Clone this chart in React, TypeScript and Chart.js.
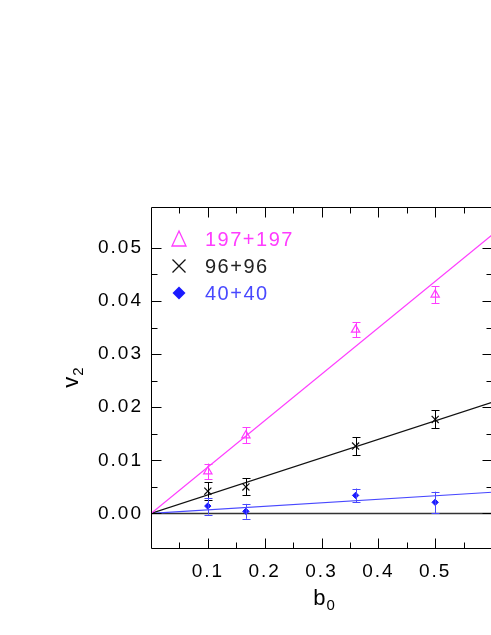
import React, { useEffect, useRef } from 'react';
import { Chart, registerables } from 'chart.js';

Chart.register(...registerables);

// ---- data ----
const b0 = [0.1, 0.167, 0.36, 0.5];
const v2_197 = [0.0079, 0.0147, 0.0346, 0.0412];
const err_197 = [0.0015, 0.0015, 0.0014, 0.0016];
const v2_96 = [0.0042, 0.005, 0.0127, 0.0177];
const err_96 = [0.0017, 0.0016, 0.0017, 0.0017];
const v2_40 = [0.0014, 0.0004, 0.0034, 0.0021];
const err_40 = [0.0016, 0.0014, 0.0013, 0.002];
const fitX = [0, 0.6];
const slope197 = 0.0874;
const slope96 = 0.0349;
const slope40 = 0.00666;
const legendLabels = ['197+197', '96+96', '40+40'];
const xTickLabels = ['0.1', '0.2', '0.3', '0.4', '0.5'];
const yTickLabels = ['0.00', '0.01', '0.02', '0.03', '0.04', '0.05'];

const MAGENTA = '#ff3cff';
const BLACK = '#000000';
const BLUE = '#1a1aff';
const BLUE_LIGHT = '#4848ff';
const FONT = '"Liberation Sans", Arial, Helvetica, sans-serif';

const pts = (xs: number[], ys: number[]) => xs.map((x, i) => ({ x, y: ys[i] }));

export default function App() {
  const ref = useRef<HTMLCanvasElement | null>(null);

  useEffect(() => {
    const canvas = ref.current;
    if (!canvas) return;

    const errSeries = [
      { ys: v2_197, es: err_197, color: MAGENTA },
      { ys: v2_96, es: err_96, color: BLACK },
      { ys: v2_40, es: err_40, color: BLUE_LIGHT },
    ];

    const isMult = (v: number, step: number) => Math.abs(v / step - Math.round(v / step)) < 1e-6;

    const spacing = {
      id: 'spacing',
      beforeDraw(chart: any) {
        (chart.ctx as any).letterSpacing = '2px';
      },
    };

    const overlay = {
      id: 'overlay',
      afterDatasetsDraw(chart: any) {
        const ctx = chart.ctx as CanvasRenderingContext2D;
        const xs = chart.scales.x;
        const ys = chart.scales.y;
        const { left, right, top, bottom } = chart.chartArea;
        ctx.save();
        // error bars
        errSeries.forEach((s) => {
          ctx.strokeStyle = s.color;
          ctx.lineWidth = 1;
          b0.forEach((x, i) => {
            const px = Math.round(xs.getPixelForValue(x)) + 0.5;
            const y1 = ys.getPixelForValue(s.ys[i] + s.es[i]);
            const y2 = ys.getPixelForValue(s.ys[i] - s.es[i]);
            ctx.beginPath();
            ctx.moveTo(px, y1);
            ctx.lineTo(px, y2);
            ctx.moveTo(px - 4, Math.round(y1) + 0.5);
            ctx.lineTo(px + 4, Math.round(y1) + 0.5);
            ctx.moveTo(px - 4, Math.round(y2) + 0.5);
            ctx.lineTo(px + 4, Math.round(y2) + 0.5);
            ctx.stroke();
          });
        });
        // frame
        ctx.strokeStyle = '#000';
        ctx.lineWidth = 1;
        const L = Math.round(left) + 0.5;
        const R = Math.round(right) + 0.5;
        const T = Math.round(top) + 0.5;
        const B = Math.round(bottom) + 0.5;
        ctx.beginPath();
        ctx.rect(L, T, R - L, B - T);
        ctx.stroke();
        // ticks
        ctx.beginPath();
        xs.ticks.forEach((t: any) => {
          const v = t.value;
          if (!isMult(v, 0.05) || v <= xs.min + 1e-9 || v >= xs.max - 1e-9) return;
          const len = isMult(v, 0.1) ? 10 : 6;
          const px = Math.round(xs.getPixelForValue(v)) + 0.5;
          ctx.moveTo(px, B);
          ctx.lineTo(px, B - len);
          ctx.moveTo(px, T);
          ctx.lineTo(px, T + len);
        });
        ys.ticks.forEach((t: any) => {
          const v = t.value;
          if (!isMult(v, 0.005) || v <= ys.min + 1e-9 || v >= ys.max - 1e-9) return;
          const len = isMult(v, 0.01) ? 10 : 6;
          const py = Math.round(ys.getPixelForValue(v)) + 0.5;
          ctx.moveTo(L, py);
          ctx.lineTo(L + len, py);
          ctx.moveTo(R, py);
          ctx.lineTo(R - len, py);
        });
        ctx.stroke();

        // legend
        const lx = left + 28;
        const tx = left + 54;
        const rowY = [top + 32, top + 59, top + 86];
        const colors = [MAGENTA, '#222222', BLUE_LIGHT];
        ctx.strokeStyle = MAGENTA;
        ctx.lineWidth = 1.3;
        ctx.beginPath();
        ctx.moveTo(lx, rowY[0] - 8);
        ctx.lineTo(lx + 7, rowY[0] + 7);
        ctx.lineTo(lx - 7, rowY[0] + 7);
        ctx.closePath();
        ctx.stroke();
        ctx.strokeStyle = '#111';
        ctx.beginPath();
        ctx.moveTo(lx - 6.5, rowY[1] - 6.5);
        ctx.lineTo(lx + 6.5, rowY[1] + 6.5);
        ctx.moveTo(lx + 6.5, rowY[1] - 6.5);
        ctx.lineTo(lx - 6.5, rowY[1] + 6.5);
        ctx.stroke();
        ctx.fillStyle = BLUE;
        ctx.beginPath();
        ctx.moveTo(lx, rowY[2] - 6.5);
        ctx.lineTo(lx + 6.5, rowY[2]);
        ctx.lineTo(lx, rowY[2] + 6.5);
        ctx.lineTo(lx - 6.5, rowY[2]);
        ctx.closePath();
        ctx.fill();
        ctx.font = `20px ${FONT}`;
        (ctx as any).letterSpacing = '1.5px';
        ctx.textBaseline = 'middle';
        ctx.textAlign = 'left';
        legendLabels.forEach((lab, i) => {
          ctx.fillStyle = colors[i];
          ctx.fillText(lab, tx, rowY[i] + 1);
        });

        // axis titles
        (ctx as any).letterSpacing = '0px';
        ctx.fillStyle = '#000';
        ctx.textBaseline = 'alphabetic';
        ctx.font = `22px ${FONT}`;
        const bw = ctx.measureText('b').width;
        ctx.font = `15px ${FONT}`;
        const sw = ctx.measureText('0').width;
        const cx = xs.getPixelForValue(0.3);
        const bx = cx - (bw + sw) / 2 + 2;
        ctx.font = `22px ${FONT}`;
        ctx.fillText('b', bx, 605);
        ctx.font = `15px ${FONT}`;
        ctx.fillText('0', bx + bw + 1, 610);
        ctx.save();
        ctx.translate(78, 378);
        ctx.rotate(-Math.PI / 2);
        ctx.font = `22px ${FONT}`;
        const vw = ctx.measureText('v').width;
        ctx.font = `15px ${FONT}`;
        const s2 = ctx.measureText('2').width;
        const vx = -(vw + s2) / 2;
        ctx.font = `22px ${FONT}`;
        ctx.fillText('v', vx, 0);
        ctx.font = `15px ${FONT}`;
        ctx.fillText('2', vx + vw + 1, 5);
        ctx.restore();

        ctx.restore();
      },
    };

    const chart = new Chart(canvas, {
      type: 'scatter',
      data: {
        datasets: [
          {
            type: 'line',
            label: 'zero',
            data: pts(fitX, [0, 0]),
            borderColor: '#333',
            borderWidth: 1.3,
            pointRadius: 0,
            order: 5,
          } as any,
          {
            type: 'line',
            label: 'fit 197',
            data: pts(fitX, fitX.map((x) => x * slope197)),
            borderColor: MAGENTA,
            borderWidth: 1.2,
            pointRadius: 0,
          } as any,
          {
            type: 'line',
            label: 'fit 96',
            data: pts(fitX, fitX.map((x) => x * slope96)),
            borderColor: '#111',
            borderWidth: 1.2,
            pointRadius: 0,
          } as any,
          {
            type: 'line',
            label: 'fit 40',
            data: pts(fitX, fitX.map((x) => x * slope40)),
            borderColor: BLUE_LIGHT,
            borderWidth: 1.2,
            pointRadius: 0,
          } as any,
          {
            label: legendLabels[0],
            data: pts(b0, v2_197),
            pointStyle: 'triangle',
            pointRadius: 4.8,
            borderColor: MAGENTA,
            backgroundColor: 'rgba(0,0,0,0)',
            borderWidth: 1.2,
          },
          {
            label: legendLabels[1],
            data: pts(b0, v2_96),
            pointStyle: 'crossRot',
            pointRadius: 5,
            borderColor: '#111',
            borderWidth: 1.2,
          },
          {
            label: legendLabels[2],
            data: pts(b0, v2_40),
            pointStyle: 'rectRot',
            pointRadius: 3.2,
            borderColor: BLUE,
            backgroundColor: BLUE,
            borderWidth: 1,
          },
        ],
      },
      options: {
        responsive: false,
        animation: false,
        layout: { padding: { top: 207, right: 48, bottom: 0, left: 0 } },
        plugins: { legend: { display: false }, tooltip: { enabled: false } },
        scales: {
          x: {
            type: 'linear',
            min: 0,
            max: 0.6,
            grid: { display: false, drawTicks: false },
            border: { display: false },
            afterFit: (s: any) => {
              s.height = 635 - 548;
            },
            ticks: {
              stepSize: 0.05,
              autoSkip: false,
              maxRotation: 0,
              padding: 12,
              color: '#000',
              font: { family: FONT, size: 19 },
              callback: (v: any) => {
                const k = Math.round(Number(v) / 0.1);
                if (Math.abs(Number(v) - k * 0.1) < 1e-9 && k >= 1 && k <= xTickLabels.length) return xTickLabels[k - 1];
                return '';
              },
            },
          },
          y: {
            type: 'linear',
            min: -0.0065,
            max: 0.0577,
            grid: { display: false, drawTicks: false },
            border: { display: false },
            afterFit: (s: any) => {
              s.width = 151;
            },
            ticks: {
              stepSize: 0.005,
              autoSkip: false,
              padding: 8,
              color: '#000',
              font: { family: FONT, size: 19 },
              callback: (v: any) => {
                const k = Math.round(Number(v) / 0.01);
                if (Math.abs(Number(v) - k * 0.01) < 1e-9 && k >= 0 && k < yTickLabels.length) return yTickLabels[k];
                return '';
              },
            },
          },
        },
      },
      plugins: [spacing, overlay],
    });

    return () => chart.destroy();
  }, []);

  return (
    <div style={{ position: 'absolute', left: 0, top: 0, width: 491, height: 635, overflow: 'hidden', background: '#fff' }}>
      <canvas ref={ref} width={540} height={635} style={{ display: 'block', width: 540, height: 635 }} />
    </div>
  );
}
